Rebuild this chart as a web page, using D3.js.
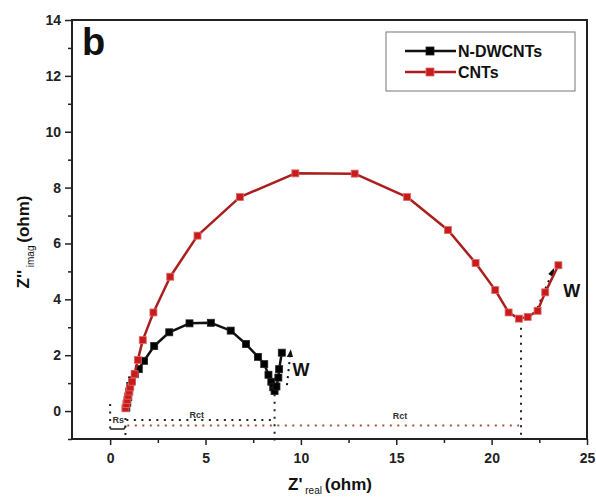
<!DOCTYPE html>
<html><head><meta charset="utf-8">
<script src="https://cdn.jsdelivr.net/npm/d3@7"></script>
<style>body{margin:0;background:#fff}svg{display:block}</style>
</head><body>
<script>
// ---- data ----
const seriesNames = ["N-DWCNTs", "CNTs"];
const ndwX = [0.85,0.9,0.95,1.0,1.05,1.15,1.3,1.5,1.78,2.31,3.10,4.16,5.28,6.32,7.12,7.75,8.08,8.3,8.45,8.55,8.62,8.72,8.82,8.86,9.0];
const ndwY = [0.12,0.3,0.5,0.7,0.9,1.1,1.32,1.5,1.80,2.33,2.82,3.14,3.16,2.88,2.40,1.94,1.68,1.3,1.05,0.85,0.72,0.88,1.2,1.5,2.09];
const cntX = [0.8,0.85,0.9,0.95,1.0,1.05,1.15,1.28,1.45,1.71,2.27,3.15,4.58,6.80,9.71,12.82,15.57,17.71,19.16,20.19,20.89,21.43,21.89,22.41,22.81,23.50];
const cntY = [0.1,0.25,0.4,0.55,0.7,0.85,1.05,1.32,1.83,2.54,3.53,4.81,6.28,7.66,8.51,8.50,7.66,6.48,5.30,4.33,3.53,3.31,3.37,3.59,4.25,5.22];
const xMajorTicks = [0,5,10,15,20,25];
const xMinorTicks = [2.5,7.5,12.5,17.5,22.5];
const yMajorTicks = [0,2,4,6,8,10,12,14];
const yMinorTicks = [-1,1,3,5,7,9,11,13];
const rsValue = 0.8, rctNdw = 8.62, rctCnt = 21.54;

const W = 596, H = 500;
const L = 72, R = 587, T = 20, B = 439;
const FONT = "'Liberation Sans', Arial, sans-serif";

const svg = d3.select("body").append("svg").attr("width", W).attr("height", H)
  .style("font-family", FONT);

const x = d3.scaleLinear().domain([-2, 25]).range([L, R]);
const y = d3.scaleLinear().domain([-1, 14]).range([B, T]);

// axes
svg.append("g").attr("transform", `translate(0,${B})`)
  .call(d3.axisBottom(x).tickValues(xMajorTicks).tickSize(6).tickPadding(8).tickFormat(d3.format("d")));
svg.append("g").attr("transform", `translate(0,${B})`)
  .call(d3.axisBottom(x).tickValues(xMinorTicks).tickSize(4).tickFormat(""));
svg.append("g").attr("transform", `translate(${L},0)`)
  .call(d3.axisLeft(y).tickValues(yMajorTicks).tickSize(7).tickPadding(4).tickFormat(d3.format("d")));
svg.append("g").attr("transform", `translate(${L},0)`)
  .call(d3.axisLeft(y).tickValues(yMinorTicks).tickSize(4).tickFormat(""));
svg.selectAll(".domain").remove();
svg.selectAll(".tick line").attr("stroke", "#222").attr("stroke-width", 1.5);
svg.selectAll(".tick text").attr("fill", "#222").style("font-size", "14px").style("font-weight", "bold").style("font-family", FONT);

// frame
svg.append("rect").attr("x", L).attr("y", T).attr("width", R - L).attr("height", B - T)
  .attr("fill", "none").attr("stroke", "#222").attr("stroke-width", 2);

// annotation dotted lines
const dot = (x1, y1, x2, y2, color) => svg.append("line")
  .attr("x1", x(x1)).attr("y1", y(y1)).attr("x2", x(x2)).attr("y2", y(y2))
  .attr("stroke", color).attr("stroke-width", 2).attr("stroke-dasharray", "2,5.5");
dot(0, 0.25, 0, -0.7, "#222");
dot(rsValue, -0.25, rsValue, -1, "#222");
dot(rsValue + 0.05, -0.32, rctNdw, -0.32, "#222");
dot(rsValue + 0.1, -0.52, rctCnt - 0.1, -0.52, "#a8503a");
dot(rctNdw, 0.6, rctNdw, -1.05, "#222");
dot(rctCnt, 3.25, rctCnt, -1.0, "#222");
// Rs bracket
svg.append("path")
  .attr("d", `M${x(0)},${y(-0.64)} L${x(0.72)},${y(-0.64)} L${x(0.82)},${y(-0.54)}`)
  .attr("fill", "none").attr("stroke", "#222").attr("stroke-width", 1.5);
const small = (tx, ty, s) => svg.append("text").attr("x", x(tx)).attr("y", y(ty))
  .attr("text-anchor", "middle").style("font-size", "9px").style("font-weight", "bold")
  .attr("fill", "#333").text(s);
small(0.42, -0.42, "Rs");
small(4.54, -0.24, "Rct");
small(15.2, -0.27, "Rct");

// Warburg dotted arrows
svg.append("defs").append("marker").attr("id", "ah").attr("viewBox", "0 0 10 10")
  .attr("refX", 5).attr("refY", 5).attr("markerWidth", 4).attr("markerHeight", 4).attr("orient", "auto")
  .append("path").attr("d", "M0,1 L10,5 L0,9 z").attr("fill", "#111");
const warr = (x1, y1, x2, y2) => svg.append("line")
  .attr("x1", x(x1)).attr("y1", y(y1)).attr("x2", x(x2)).attr("y2", y(y2))
  .attr("stroke", "#111").attr("stroke-width", 2).attr("stroke-dasharray", "2,5")
  .attr("marker-end", "url(#ah)");
warr(9.27, 0.93, 9.45, 2.07);
warr(22.4, 3.69, 23.19, 4.99);
const wlab = (tx, ty) => svg.append("text").attr("x", x(tx)).attr("y", y(ty)).attr("dy", "0.36em")
  .attr("text-anchor", "middle").style("font-size", "18px").style("font-weight", "bold")
  .attr("fill", "#111").text("W");
wlab(10.0, 1.47);
wlab(24.2, 4.3);

// series
const line = d3.line().x(d => x(d[0])).y(d => y(d[1]));
const series = [
  {name: seriesNames[0], pts: ndwX.map((v, i) => [v, ndwY[i]]), line: "#111", fill: "#000", edge: "#222"},
  {name: seriesNames[1], pts: cntX.map((v, i) => [v, cntY[i]]), line: "#ab1e1e", fill: "#c81c1c", edge: "#e06a6a"}
];
const MS = 7;
series.forEach(s => {
  svg.append("path").datum(s.pts).attr("d", line).attr("fill", "none")
    .attr("stroke", s.line).attr("stroke-width", 2.5).attr("stroke-linejoin", "round");
  svg.append("g").selectAll("rect").data(s.pts).join("rect")
    .attr("x", d => x(d[0]) - MS / 2).attr("y", d => y(d[1]) - MS / 2)
    .attr("width", MS).attr("height", MS).attr("fill", s.fill).attr("stroke", s.edge).attr("stroke-width", 0.8);
});

// panel label
svg.append("text").attr("x", 82).attr("y", 55).style("font-size", "38px").style("font-weight", "bold")
  .attr("fill", "#111").text("b");

// legend
svg.append("rect").attr("x", 386).attr("y", 32).attr("width", 189).attr("height", 59)
  .attr("fill", "#fff").attr("stroke", "#777").attr("stroke-width", 1);
series.forEach((s, i) => {
  const ly = 51 + i * 21;
  svg.append("line").attr("x1", 405).attr("x2", 456).attr("y1", ly).attr("y2", ly)
    .attr("stroke", s.line).attr("stroke-width", 2.5);
  svg.append("rect").attr("x", 430 - 4).attr("y", ly - 4).attr("width", 8).attr("height", 8)
    .attr("fill", s.fill).attr("stroke", s.edge).attr("stroke-width", 0.8);
  svg.append("text").attr("x", 458).attr("y", ly).attr("dy", "0.36em")
    .style("font-size", "16px").style("font-weight", "bold").attr("fill", "#111").text(s.name);
});

// axis titles
const xt = svg.append("text").attr("x", 330).attr("y", 490).attr("text-anchor", "middle")
  .attr("fill", "#111").style("font-size", "17px").style("font-weight", "bold");
xt.append("tspan").text("Z'");
xt.append("tspan").attr("dy", 4).style("font-size", "10px").style("font-weight", "normal").text(" real ");
xt.append("tspan").attr("dy", -4).text("(ohm)");

const yt = svg.append("text").attr("transform", "translate(29,242) rotate(-90)").attr("text-anchor", "middle")
  .attr("fill", "#111").style("font-size", "17px").style("font-weight", "bold");
yt.append("tspan").text("Z''");
yt.append("tspan").attr("dy", 5).style("font-size", "10px").style("font-weight", "normal").text(" imag ");
yt.append("tspan").attr("dy", -5).text("(ohm)");
</script>
</body></html>
